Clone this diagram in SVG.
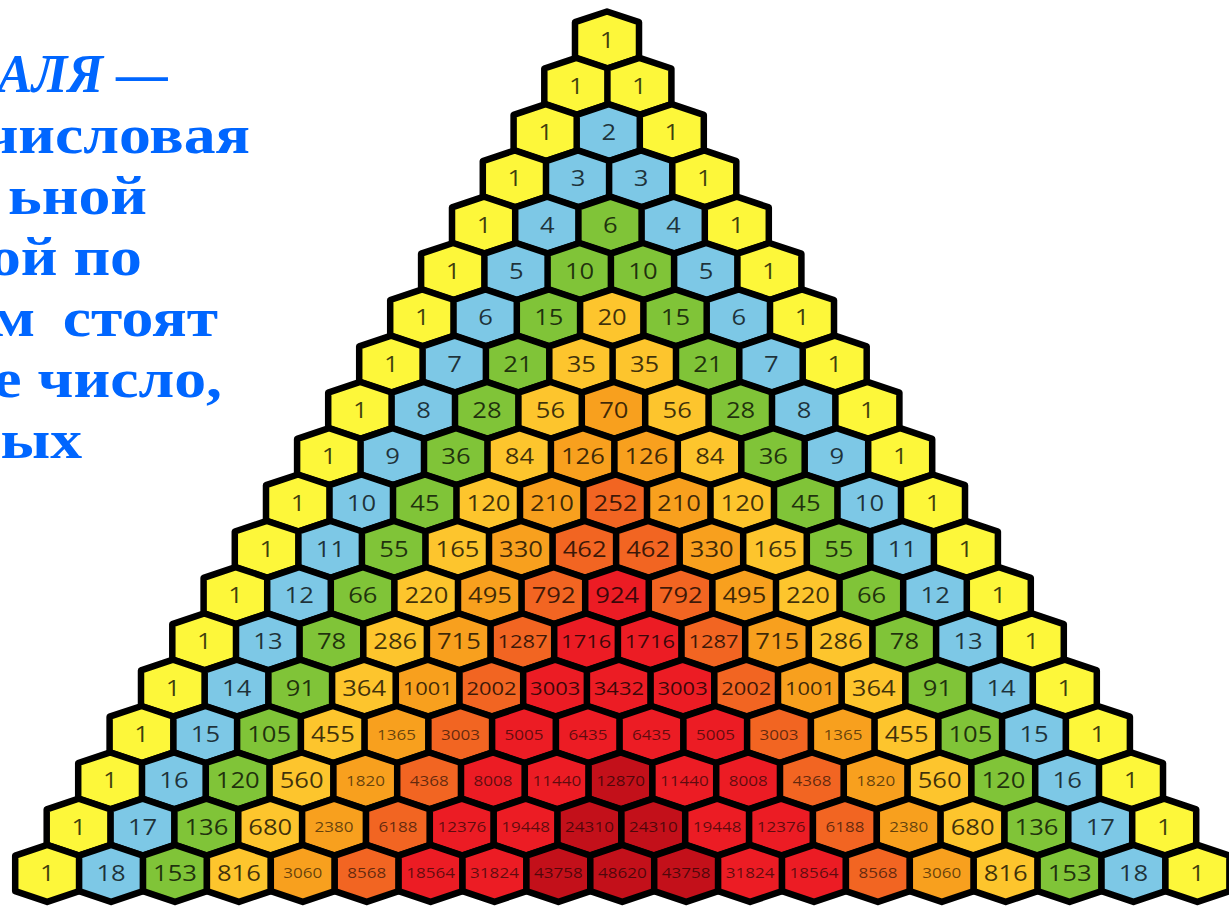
<svg xmlns="http://www.w3.org/2000/svg" xmlns:xlink="http://www.w3.org/1999/xlink" width="1229" height="907" viewBox="0 0 1229 907">
<style>
.cap{font-family:"Liberation Serif","Times New Roman",serif;font-weight:bold;font-size:54px;fill:#0066FF;text-anchor:end}
.cap .st{text-anchor:start}
.it{font-style:italic}
.hx{stroke:#000;stroke-width:6.5;stroke-linejoin:round}
.Y{fill:#FDF73A}.B{fill:#7DC8E6}.G{fill:#80C438}.L{fill:#FDC52D}.O{fill:#F8A01E}.D{fill:#F26522}.R{fill:#EC1C24}.X{fill:#C3101A}
text.t,text.m,text.s{font-family:"Open Sans","Liberation Sans",sans-serif;text-anchor:middle;fill:#000;fill-opacity:0.75;transform:scale(1.22,1)}
text.t{font-size:21px}
text.m{font-size:18px}
text.s{font-size:14px;fill-opacity:0.6}
</style>
<defs>
<polygon id="h" class="hx" points="0,-28.5 32,-17.8 32,17.8 0,28.5 -32,17.8 -32,-17.8"/>
</defs>
<rect width="1229" height="907" fill="#fff"/>
<g id="caption" class="cap" transform="scale(1.18,1)">
<text class="st" x="-2" y="92" textLength="144" lengthAdjust="spacingAndGlyphs"><tspan class="it">АЛЯ</tspan> —</text>
<text x="211.9" y="153">числовая</text>
<text x="124.6" y="214" word-spacing="0">ьной</text>
<text x="120.3" y="275">ой по</text>
<text x="184.7" y="336" word-spacing="10">м стоят</text>
<text x="188.1" y="397">е число,</text>
<text x="69.5" y="458">ых</text>
</g>
<g id="triangle">
<g id="r0k0" transform="translate(607,40)"><use href="#h" class="Y"/><text class="t" y="7.5">1</text></g>
<g id="r1k0" transform="translate(576.3,86.3)"><use href="#h" class="Y"/><text class="t" y="7.5">1</text></g>
<g id="r1k1" transform="translate(639.4,86.3)"><use href="#h" class="Y"/><text class="t" y="7.5">1</text></g>
<g id="r2k0" transform="translate(545.6,132.6)"><use href="#h" class="Y"/><text class="t" y="7.5">1</text></g>
<g id="r2k1" transform="translate(608.7,132.6)"><use href="#h" class="B"/><text class="t" y="7.5">2</text></g>
<g id="r2k2" transform="translate(671.8,132.6)"><use href="#h" class="Y"/><text class="t" y="7.5">1</text></g>
<g id="r3k0" transform="translate(514.8,178.9)"><use href="#h" class="Y"/><text class="t" y="7.5">1</text></g>
<g id="r3k1" transform="translate(578,178.9)"><use href="#h" class="B"/><text class="t" y="7.5">3</text></g>
<g id="r3k2" transform="translate(641.1,178.9)"><use href="#h" class="B"/><text class="t" y="7.5">3</text></g>
<g id="r3k3" transform="translate(704.3,178.9)"><use href="#h" class="Y"/><text class="t" y="7.5">1</text></g>
<g id="r4k0" transform="translate(484,225.2)"><use href="#h" class="Y"/><text class="t" y="7.5">1</text></g>
<g id="r4k1" transform="translate(547.2,225.2)"><use href="#h" class="B"/><text class="t" y="7.5">4</text></g>
<g id="r4k2" transform="translate(610.4,225.2)"><use href="#h" class="G"/><text class="t" y="7.5">6</text></g>
<g id="r4k3" transform="translate(673.6,225.2)"><use href="#h" class="B"/><text class="t" y="7.5">4</text></g>
<g id="r4k4" transform="translate(736.8,225.2)"><use href="#h" class="Y"/><text class="t" y="7.5">1</text></g>
<g id="r5k0" transform="translate(453.1,271.5)"><use href="#h" class="Y"/><text class="t" y="7.5">1</text></g>
<g id="r5k1" transform="translate(516.4,271.5)"><use href="#h" class="B"/><text class="t" y="7.5">5</text></g>
<g id="r5k2" transform="translate(579.6,271.5)"><use href="#h" class="G"/><text class="t" y="7.5">10</text></g>
<g id="r5k3" transform="translate(642.9,271.5)"><use href="#h" class="G"/><text class="t" y="7.5">10</text></g>
<g id="r5k4" transform="translate(706.1,271.5)"><use href="#h" class="B"/><text class="t" y="7.5">5</text></g>
<g id="r5k5" transform="translate(769.4,271.5)"><use href="#h" class="Y"/><text class="t" y="7.5">1</text></g>
<g id="r6k0" transform="translate(422.2,317.8)"><use href="#h" class="Y"/><text class="t" y="7.5">1</text></g>
<g id="r6k1" transform="translate(485.5,317.8)"><use href="#h" class="B"/><text class="t" y="7.5">6</text></g>
<g id="r6k2" transform="translate(548.8,317.8)"><use href="#h" class="G"/><text class="t" y="7.5">15</text></g>
<g id="r6k3" transform="translate(612.1,317.8)"><use href="#h" class="L"/><text class="t" y="7.5">20</text></g>
<g id="r6k4" transform="translate(675.4,317.8)"><use href="#h" class="G"/><text class="t" y="7.5">15</text></g>
<g id="r6k5" transform="translate(738.7,317.8)"><use href="#h" class="B"/><text class="t" y="7.5">6</text></g>
<g id="r6k6" transform="translate(802,317.8)"><use href="#h" class="Y"/><text class="t" y="7.5">1</text></g>
<g id="r7k0" transform="translate(391.2,364.1)"><use href="#h" class="Y"/><text class="t" y="7.5">1</text></g>
<g id="r7k1" transform="translate(454.6,364.1)"><use href="#h" class="B"/><text class="t" y="7.5">7</text></g>
<g id="r7k2" transform="translate(517.9,364.1)"><use href="#h" class="G"/><text class="t" y="7.5">21</text></g>
<g id="r7k3" transform="translate(581.3,364.1)"><use href="#h" class="L"/><text class="t" y="7.5">35</text></g>
<g id="r7k4" transform="translate(644.6,364.1)"><use href="#h" class="L"/><text class="t" y="7.5">35</text></g>
<g id="r7k5" transform="translate(708,364.1)"><use href="#h" class="G"/><text class="t" y="7.5">21</text></g>
<g id="r7k6" transform="translate(771.3,364.1)"><use href="#h" class="B"/><text class="t" y="7.5">7</text></g>
<g id="r7k7" transform="translate(834.7,364.1)"><use href="#h" class="Y"/><text class="t" y="7.5">1</text></g>
<g id="r8k0" transform="translate(360.2,410.4)"><use href="#h" class="Y"/><text class="t" y="7.5">1</text></g>
<g id="r8k1" transform="translate(423.6,410.4)"><use href="#h" class="B"/><text class="t" y="7.5">8</text></g>
<g id="r8k2" transform="translate(487,410.4)"><use href="#h" class="G"/><text class="t" y="7.5">28</text></g>
<g id="r8k3" transform="translate(550.4,410.4)"><use href="#h" class="L"/><text class="t" y="7.5">56</text></g>
<g id="r8k4" transform="translate(613.8,410.4)"><use href="#h" class="O"/><text class="t" y="7.5">70</text></g>
<g id="r8k5" transform="translate(677.2,410.4)"><use href="#h" class="L"/><text class="t" y="7.5">56</text></g>
<g id="r8k6" transform="translate(740.6,410.4)"><use href="#h" class="G"/><text class="t" y="7.5">28</text></g>
<g id="r8k7" transform="translate(804,410.4)"><use href="#h" class="B"/><text class="t" y="7.5">8</text></g>
<g id="r8k8" transform="translate(867.4,410.4)"><use href="#h" class="Y"/><text class="t" y="7.5">1</text></g>
<g id="r9k0" transform="translate(329.1,456.7)"><use href="#h" class="Y"/><text class="t" y="7.5">1</text></g>
<g id="r9k1" transform="translate(392.6,456.7)"><use href="#h" class="B"/><text class="t" y="7.5">9</text></g>
<g id="r9k2" transform="translate(456,456.7)"><use href="#h" class="G"/><text class="t" y="7.5">36</text></g>
<g id="r9k3" transform="translate(519.5,456.7)"><use href="#h" class="L"/><text class="t" y="7.5">84</text></g>
<g id="r9k4" transform="translate(582.9,456.7)"><use href="#h" class="O"/><text class="t" y="7.5">126</text></g>
<g id="r9k5" transform="translate(646.4,456.7)"><use href="#h" class="O"/><text class="t" y="7.5">126</text></g>
<g id="r9k6" transform="translate(709.8,456.7)"><use href="#h" class="L"/><text class="t" y="7.5">84</text></g>
<g id="r9k7" transform="translate(773.3,456.7)"><use href="#h" class="G"/><text class="t" y="7.5">36</text></g>
<g id="r9k8" transform="translate(836.7,456.7)"><use href="#h" class="B"/><text class="t" y="7.5">9</text></g>
<g id="r9k9" transform="translate(900.2,456.7)"><use href="#h" class="Y"/><text class="t" y="7.5">1</text></g>
<g id="r10k0" transform="translate(298,503)"><use href="#h" class="Y"/><text class="t" y="7.5">1</text></g>
<g id="r10k1" transform="translate(361.5,503)"><use href="#h" class="B"/><text class="t" y="7.5">10</text></g>
<g id="r10k2" transform="translate(425,503)"><use href="#h" class="G"/><text class="t" y="7.5">45</text></g>
<g id="r10k3" transform="translate(488.5,503)"><use href="#h" class="L"/><text class="t" y="7.5">120</text></g>
<g id="r10k4" transform="translate(552,503)"><use href="#h" class="O"/><text class="t" y="7.5">210</text></g>
<g id="r10k5" transform="translate(615.5,503)"><use href="#h" class="D"/><text class="t" y="7.5">252</text></g>
<g id="r10k6" transform="translate(679,503)"><use href="#h" class="O"/><text class="t" y="7.5">210</text></g>
<g id="r10k7" transform="translate(742.5,503)"><use href="#h" class="L"/><text class="t" y="7.5">120</text></g>
<g id="r10k8" transform="translate(806,503)"><use href="#h" class="G"/><text class="t" y="7.5">45</text></g>
<g id="r10k9" transform="translate(869.5,503)"><use href="#h" class="B"/><text class="t" y="7.5">10</text></g>
<g id="r10k10" transform="translate(933,503)"><use href="#h" class="Y"/><text class="t" y="7.5">1</text></g>
<g id="r11k0" transform="translate(266.8,549.3)"><use href="#h" class="Y"/><text class="t" y="7.5">1</text></g>
<g id="r11k1" transform="translate(330.4,549.3)"><use href="#h" class="B"/><text class="t" y="7.5">11</text></g>
<g id="r11k2" transform="translate(393.9,549.3)"><use href="#h" class="G"/><text class="t" y="7.5">55</text></g>
<g id="r11k3" transform="translate(457.5,549.3)"><use href="#h" class="L"/><text class="t" y="7.5">165</text></g>
<g id="r11k4" transform="translate(521,549.3)"><use href="#h" class="O"/><text class="t" y="7.5">330</text></g>
<g id="r11k5" transform="translate(584.6,549.3)"><use href="#h" class="D"/><text class="t" y="7.5">462</text></g>
<g id="r11k6" transform="translate(648.1,549.3)"><use href="#h" class="D"/><text class="t" y="7.5">462</text></g>
<g id="r11k7" transform="translate(711.7,549.3)"><use href="#h" class="O"/><text class="t" y="7.5">330</text></g>
<g id="r11k8" transform="translate(775.2,549.3)"><use href="#h" class="L"/><text class="t" y="7.5">165</text></g>
<g id="r11k9" transform="translate(838.8,549.3)"><use href="#h" class="G"/><text class="t" y="7.5">55</text></g>
<g id="r11k10" transform="translate(902.3,549.3)"><use href="#h" class="B"/><text class="t" y="7.5">11</text></g>
<g id="r11k11" transform="translate(965.9,549.3)"><use href="#h" class="Y"/><text class="t" y="7.5">1</text></g>
<g id="r12k0" transform="translate(235.6,595.6)"><use href="#h" class="Y"/><text class="t" y="7.5">1</text></g>
<g id="r12k1" transform="translate(299.2,595.6)"><use href="#h" class="B"/><text class="t" y="7.5">12</text></g>
<g id="r12k2" transform="translate(362.8,595.6)"><use href="#h" class="G"/><text class="t" y="7.5">66</text></g>
<g id="r12k3" transform="translate(426.4,595.6)"><use href="#h" class="L"/><text class="t" y="7.5">220</text></g>
<g id="r12k4" transform="translate(490,595.6)"><use href="#h" class="O"/><text class="t" y="7.5">495</text></g>
<g id="r12k5" transform="translate(553.6,595.6)"><use href="#h" class="D"/><text class="t" y="7.5">792</text></g>
<g id="r12k6" transform="translate(617.2,595.6)"><use href="#h" class="R"/><text class="t" y="7.5">924</text></g>
<g id="r12k7" transform="translate(680.8,595.6)"><use href="#h" class="D"/><text class="t" y="7.5">792</text></g>
<g id="r12k8" transform="translate(744.4,595.6)"><use href="#h" class="O"/><text class="t" y="7.5">495</text></g>
<g id="r12k9" transform="translate(808,595.6)"><use href="#h" class="L"/><text class="t" y="7.5">220</text></g>
<g id="r12k10" transform="translate(871.6,595.6)"><use href="#h" class="G"/><text class="t" y="7.5">66</text></g>
<g id="r12k11" transform="translate(935.2,595.6)"><use href="#h" class="B"/><text class="t" y="7.5">12</text></g>
<g id="r12k12" transform="translate(998.8,595.6)"><use href="#h" class="Y"/><text class="t" y="7.5">1</text></g>
<g id="r13k0" transform="translate(204.3,641.9)"><use href="#h" class="Y"/><text class="t" y="7.5">1</text></g>
<g id="r13k1" transform="translate(268,641.9)"><use href="#h" class="B"/><text class="t" y="7.5">13</text></g>
<g id="r13k2" transform="translate(331.6,641.9)"><use href="#h" class="G"/><text class="t" y="7.5">78</text></g>
<g id="r13k3" transform="translate(395.3,641.9)"><use href="#h" class="L"/><text class="t" y="7.5">286</text></g>
<g id="r13k4" transform="translate(458.9,641.9)"><use href="#h" class="O"/><text class="t" y="7.5">715</text></g>
<g id="r13k5" transform="translate(522.6,641.9)"><use href="#h" class="D"/><text class="m" y="6.5">1287</text></g>
<g id="r13k6" transform="translate(586.2,641.9)"><use href="#h" class="R"/><text class="m" y="6.5">1716</text></g>
<g id="r13k7" transform="translate(649.9,641.9)"><use href="#h" class="R"/><text class="m" y="6.5">1716</text></g>
<g id="r13k8" transform="translate(713.5,641.9)"><use href="#h" class="D"/><text class="m" y="6.5">1287</text></g>
<g id="r13k9" transform="translate(777.2,641.9)"><use href="#h" class="O"/><text class="t" y="7.5">715</text></g>
<g id="r13k10" transform="translate(840.8,641.9)"><use href="#h" class="L"/><text class="t" y="7.5">286</text></g>
<g id="r13k11" transform="translate(904.5,641.9)"><use href="#h" class="G"/><text class="t" y="7.5">78</text></g>
<g id="r13k12" transform="translate(968.1,641.9)"><use href="#h" class="B"/><text class="t" y="7.5">13</text></g>
<g id="r13k13" transform="translate(1031.8,641.9)"><use href="#h" class="Y"/><text class="t" y="7.5">1</text></g>
<g id="r14k0" transform="translate(173,688.2)"><use href="#h" class="Y"/><text class="t" y="7.5">1</text></g>
<g id="r14k1" transform="translate(236.7,688.2)"><use href="#h" class="B"/><text class="t" y="7.5">14</text></g>
<g id="r14k2" transform="translate(300.4,688.2)"><use href="#h" class="G"/><text class="t" y="7.5">91</text></g>
<g id="r14k3" transform="translate(364.1,688.2)"><use href="#h" class="L"/><text class="t" y="7.5">364</text></g>
<g id="r14k4" transform="translate(427.8,688.2)"><use href="#h" class="O"/><text class="m" y="6.5">1001</text></g>
<g id="r14k5" transform="translate(491.5,688.2)"><use href="#h" class="D"/><text class="m" y="6.5">2002</text></g>
<g id="r14k6" transform="translate(555.2,688.2)"><use href="#h" class="R"/><text class="m" y="6.5">3003</text></g>
<g id="r14k7" transform="translate(618.9,688.2)"><use href="#h" class="R"/><text class="m" y="6.5">3432</text></g>
<g id="r14k8" transform="translate(682.6,688.2)"><use href="#h" class="R"/><text class="m" y="6.5">3003</text></g>
<g id="r14k9" transform="translate(746.3,688.2)"><use href="#h" class="D"/><text class="m" y="6.5">2002</text></g>
<g id="r14k10" transform="translate(810,688.2)"><use href="#h" class="O"/><text class="m" y="6.5">1001</text></g>
<g id="r14k11" transform="translate(873.7,688.2)"><use href="#h" class="L"/><text class="t" y="7.5">364</text></g>
<g id="r14k12" transform="translate(937.4,688.2)"><use href="#h" class="G"/><text class="t" y="7.5">91</text></g>
<g id="r14k13" transform="translate(1001.1,688.2)"><use href="#h" class="B"/><text class="t" y="7.5">14</text></g>
<g id="r14k14" transform="translate(1064.8,688.2)"><use href="#h" class="Y"/><text class="t" y="7.5">1</text></g>
<g id="r15k0" transform="translate(141.6,734.5)"><use href="#h" class="Y"/><text class="t" y="7.5">1</text></g>
<g id="r15k1" transform="translate(205.4,734.5)"><use href="#h" class="B"/><text class="t" y="7.5">15</text></g>
<g id="r15k2" transform="translate(269.1,734.5)"><use href="#h" class="G"/><text class="t" y="7.5">105</text></g>
<g id="r15k3" transform="translate(332.9,734.5)"><use href="#h" class="L"/><text class="t" y="7.5">455</text></g>
<g id="r15k4" transform="translate(396.6,734.5)"><use href="#h" class="O"/><text class="s" y="5">1365</text></g>
<g id="r15k5" transform="translate(460.4,734.5)"><use href="#h" class="D"/><text class="s" y="5">3003</text></g>
<g id="r15k6" transform="translate(524.1,734.5)"><use href="#h" class="R"/><text class="s" y="5">5005</text></g>
<g id="r15k7" transform="translate(587.9,734.5)"><use href="#h" class="R"/><text class="s" y="5">6435</text></g>
<g id="r15k8" transform="translate(651.6,734.5)"><use href="#h" class="R"/><text class="s" y="5">6435</text></g>
<g id="r15k9" transform="translate(715.4,734.5)"><use href="#h" class="R"/><text class="s" y="5">5005</text></g>
<g id="r15k10" transform="translate(779.1,734.5)"><use href="#h" class="D"/><text class="s" y="5">3003</text></g>
<g id="r15k11" transform="translate(842.9,734.5)"><use href="#h" class="O"/><text class="s" y="5">1365</text></g>
<g id="r15k12" transform="translate(906.6,734.5)"><use href="#h" class="L"/><text class="t" y="7.5">455</text></g>
<g id="r15k13" transform="translate(970.4,734.5)"><use href="#h" class="G"/><text class="t" y="7.5">105</text></g>
<g id="r15k14" transform="translate(1034.1,734.5)"><use href="#h" class="B"/><text class="t" y="7.5">15</text></g>
<g id="r15k15" transform="translate(1097.9,734.5)"><use href="#h" class="Y"/><text class="t" y="7.5">1</text></g>
<g id="r16k0" transform="translate(110.2,780.8)"><use href="#h" class="Y"/><text class="t" y="7.5">1</text></g>
<g id="r16k1" transform="translate(174,780.8)"><use href="#h" class="B"/><text class="t" y="7.5">16</text></g>
<g id="r16k2" transform="translate(237.8,780.8)"><use href="#h" class="G"/><text class="t" y="7.5">120</text></g>
<g id="r16k3" transform="translate(301.6,780.8)"><use href="#h" class="L"/><text class="t" y="7.5">560</text></g>
<g id="r16k4" transform="translate(365.4,780.8)"><use href="#h" class="O"/><text class="s" y="5">1820</text></g>
<g id="r16k5" transform="translate(429.2,780.8)"><use href="#h" class="D"/><text class="s" y="5">4368</text></g>
<g id="r16k6" transform="translate(493,780.8)"><use href="#h" class="R"/><text class="s" y="5">8008</text></g>
<g id="r16k7" transform="translate(556.8,780.8)"><use href="#h" class="R"/><text class="s" y="5">11440</text></g>
<g id="r16k8" transform="translate(620.6,780.8)"><use href="#h" class="X"/><text class="s" y="5">12870</text></g>
<g id="r16k9" transform="translate(684.4,780.8)"><use href="#h" class="R"/><text class="s" y="5">11440</text></g>
<g id="r16k10" transform="translate(748.2,780.8)"><use href="#h" class="R"/><text class="s" y="5">8008</text></g>
<g id="r16k11" transform="translate(812,780.8)"><use href="#h" class="D"/><text class="s" y="5">4368</text></g>
<g id="r16k12" transform="translate(875.8,780.8)"><use href="#h" class="O"/><text class="s" y="5">1820</text></g>
<g id="r16k13" transform="translate(939.6,780.8)"><use href="#h" class="L"/><text class="t" y="7.5">560</text></g>
<g id="r16k14" transform="translate(1003.4,780.8)"><use href="#h" class="G"/><text class="t" y="7.5">120</text></g>
<g id="r16k15" transform="translate(1067.2,780.8)"><use href="#h" class="B"/><text class="t" y="7.5">16</text></g>
<g id="r16k16" transform="translate(1131,780.8)"><use href="#h" class="Y"/><text class="t" y="7.5">1</text></g>
<g id="r17k0" transform="translate(78.7,827.1)"><use href="#h" class="Y"/><text class="t" y="7.5">1</text></g>
<g id="r17k1" transform="translate(142.6,827.1)"><use href="#h" class="B"/><text class="t" y="7.5">17</text></g>
<g id="r17k2" transform="translate(206.4,827.1)"><use href="#h" class="G"/><text class="t" y="7.5">136</text></g>
<g id="r17k3" transform="translate(270.3,827.1)"><use href="#h" class="L"/><text class="t" y="7.5">680</text></g>
<g id="r17k4" transform="translate(334.1,827.1)"><use href="#h" class="O"/><text class="s" y="5">2380</text></g>
<g id="r17k5" transform="translate(398,827.1)"><use href="#h" class="D"/><text class="s" y="5">6188</text></g>
<g id="r17k6" transform="translate(461.8,827.1)"><use href="#h" class="R"/><text class="s" y="5">12376</text></g>
<g id="r17k7" transform="translate(525.7,827.1)"><use href="#h" class="R"/><text class="s" y="5">19448</text></g>
<g id="r17k8" transform="translate(589.5,827.1)"><use href="#h" class="X"/><text class="s" y="5">24310</text></g>
<g id="r17k9" transform="translate(653.4,827.1)"><use href="#h" class="X"/><text class="s" y="5">24310</text></g>
<g id="r17k10" transform="translate(717.2,827.1)"><use href="#h" class="R"/><text class="s" y="5">19448</text></g>
<g id="r17k11" transform="translate(781.1,827.1)"><use href="#h" class="R"/><text class="s" y="5">12376</text></g>
<g id="r17k12" transform="translate(844.9,827.1)"><use href="#h" class="D"/><text class="s" y="5">6188</text></g>
<g id="r17k13" transform="translate(908.8,827.1)"><use href="#h" class="O"/><text class="s" y="5">2380</text></g>
<g id="r17k14" transform="translate(972.6,827.1)"><use href="#h" class="L"/><text class="t" y="7.5">680</text></g>
<g id="r17k15" transform="translate(1036.5,827.1)"><use href="#h" class="G"/><text class="t" y="7.5">136</text></g>
<g id="r17k16" transform="translate(1100.3,827.1)"><use href="#h" class="B"/><text class="t" y="7.5">17</text></g>
<g id="r17k17" transform="translate(1164.2,827.1)"><use href="#h" class="Y"/><text class="t" y="7.5">1</text></g>
<g id="r18k0" transform="translate(47.2,873.4)"><use href="#h" class="Y"/><text class="t" y="7.5">1</text></g>
<g id="r18k1" transform="translate(111.1,873.4)"><use href="#h" class="B"/><text class="t" y="7.5">18</text></g>
<g id="r18k2" transform="translate(175,873.4)"><use href="#h" class="G"/><text class="t" y="7.5">153</text></g>
<g id="r18k3" transform="translate(238.9,873.4)"><use href="#h" class="L"/><text class="t" y="7.5">816</text></g>
<g id="r18k4" transform="translate(302.8,873.4)"><use href="#h" class="O"/><text class="s" y="5">3060</text></g>
<g id="r18k5" transform="translate(366.7,873.4)"><use href="#h" class="D"/><text class="s" y="5">8568</text></g>
<g id="r18k6" transform="translate(430.6,873.4)"><use href="#h" class="R"/><text class="s" y="5">18564</text></g>
<g id="r18k7" transform="translate(494.5,873.4)"><use href="#h" class="R"/><text class="s" y="5">31824</text></g>
<g id="r18k8" transform="translate(558.4,873.4)"><use href="#h" class="X"/><text class="s" y="5">43758</text></g>
<g id="r18k9" transform="translate(622.3,873.4)"><use href="#h" class="X"/><text class="s" y="5">48620</text></g>
<g id="r18k10" transform="translate(686.2,873.4)"><use href="#h" class="X"/><text class="s" y="5">43758</text></g>
<g id="r18k11" transform="translate(750.1,873.4)"><use href="#h" class="R"/><text class="s" y="5">31824</text></g>
<g id="r18k12" transform="translate(814,873.4)"><use href="#h" class="R"/><text class="s" y="5">18564</text></g>
<g id="r18k13" transform="translate(877.9,873.4)"><use href="#h" class="D"/><text class="s" y="5">8568</text></g>
<g id="r18k14" transform="translate(941.8,873.4)"><use href="#h" class="O"/><text class="s" y="5">3060</text></g>
<g id="r18k15" transform="translate(1005.7,873.4)"><use href="#h" class="L"/><text class="t" y="7.5">816</text></g>
<g id="r18k16" transform="translate(1069.6,873.4)"><use href="#h" class="G"/><text class="t" y="7.5">153</text></g>
<g id="r18k17" transform="translate(1133.5,873.4)"><use href="#h" class="B"/><text class="t" y="7.5">18</text></g>
<g id="r18k18" transform="translate(1197.4,873.4)"><use href="#h" class="Y"/><text class="t" y="7.5">1</text></g>
</g>
</svg>
